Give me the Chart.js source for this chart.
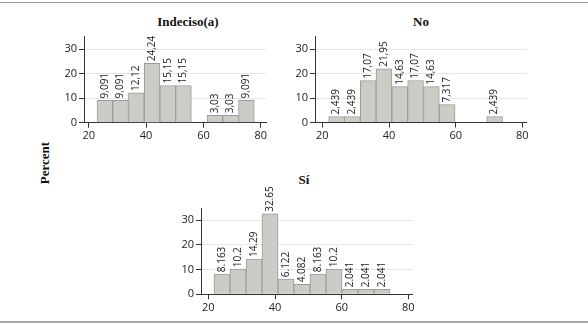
<!DOCTYPE html>
<html>
<head>
<meta charset="utf-8">
<script src="https://cdn.jsdelivr.net/npm/chart.js@4"></script>
<style>
body { margin: 0; background: #fff; width: 588px; height: 325px; overflow: hidden; position: relative; }
canvas { position: absolute; left: 0; top: 0; }
.ttl { position: absolute; font: bold 13px "Liberation Serif", serif; color: #111; transform: translateX(-50%); white-space: nowrap; line-height: 16px; }
.ylab { position: absolute; left: 45px; top: 163px; font: bold 13px "Liberation Serif", serif; color: #111; transform: translate(-50%, -50%) rotate(-90deg); white-space: nowrap; }
.rule { position: absolute; left: 0; width: 588px; background: #9d9d9d; }
</style>
</head>
<body>
<div class="rule" style="top:2px;height:1px"></div>
<div class="rule" style="top:321px;height:2px;background:#a8a8a8"></div>
<div class="ttl" style="left:188px;top:14px">Indeciso(a)</div>
<div class="ttl" style="left:421px;top:14px">No</div>
<div class="ttl" style="left:304px;top:172px">Sí</div>
<div class="ylab">Percent</div>
<canvas id="c1" width="588" height="325"></canvas>
<canvas id="c2" width="588" height="325"></canvas>
<canvas id="c3" width="588" height="325"></canvas>
<script>
// tick labels
var xTicks = [20, 40, 60, 80];
var yTicks = [0, 10, 20, 30];

// bin midpoints (age) and percent per bin
var indecisoMid = [25.64, 31.12, 36.6, 42.08, 47.56, 53.04, 58.52, 64.0, 69.48, 74.96];
var indecisoPct = [9.091, 9.091, 12.12, 24.24, 15.15, 15.15, 0, 3.03, 3.03, 9.091];

var noMid = [24.27, 29.01, 33.75, 38.49, 43.23, 47.97, 52.71, 57.45, 62.19, 66.93, 71.67];
var noPct = [2.439, 2.439, 17.07, 21.95, 14.63, 17.07, 14.63, 7.317, 0, 0, 2.439];

var siMid = [24.1, 28.9, 33.7, 38.5, 43.3, 48.1, 52.9, 57.7, 62.5, 67.3, 72.1];
var siPct = [8.163, 10.2, 14.29, 32.65, 6.122, 4.082, 8.163, 10.2, 2.041, 2.041, 2.041];

var barLabels = {
  id: 'barLabels',
  afterDatasetsDraw: function (chart, args, opts) {
    var ctx = chart.ctx;
    var meta = chart.getDatasetMeta(0);
    var vals = chart.data.datasets[0].data;
    ctx.save();
    ctx.font = '10px "Open Sans"';
    ctx.fillStyle = '#222';
    ctx.textAlign = 'left';
    ctx.textBaseline = 'middle';
    meta.data.forEach(function (bar, i) {
      var v = vals[i].y;
      if (!v) return;
      var txt = opts.comma ? String(v).replace('.', ',') : String(v);
      ctx.save();
      ctx.translate(bar.x, bar.y - 2);
      ctx.rotate(-Math.PI / 2);
      ctx.fillText(txt, 0, 0);
      ctx.restore();
    });
    ctx.restore();
  }
};

function makePanel(id, mids, pcts, xMin, xMax, pad, comma) {
  var pts = mids.map(function (m, i) { return { x: m, y: pcts[i] }; });
  var tickFont = { family: 'Open Sans', size: 11 };
  return new Chart(document.getElementById(id).getContext('2d'), {
    type: 'bar',
    data: {
      datasets: [{
        data: pts,
        backgroundColor: '#cbccc6',
        borderColor: '#9c9d98',
        borderWidth: 1,
        barPercentage: 1,
        categoryPercentage: 1
      }]
    },
    options: {
      responsive: false,
      animation: false,
      layout: { padding: pad },
      plugins: { legend: { display: false }, tooltip: { enabled: false }, barLabels: { comma: comma } },
      scales: {
        x: {
          type: 'linear', min: xMin, max: xMax, offset: false,
          afterBuildTicks: function (s) { s.ticks = xTicks.map(function (v) { return { value: v }; }); },
          afterFit: function (s) { s.height = 28; },
          grid: { drawOnChartArea: false, tickLength: 5, tickColor: '#333', offset: false },
          border: { color: '#333', width: 1 },
          ticks: { font: tickFont, color: '#222', padding: 2, maxRotation: 0 }
        },
        y: {
          min: 0, max: 35,
          afterBuildTicks: function (s) { s.ticks = yTicks.map(function (v) { return { value: v }; }); },
          afterFit: function (s) { s.width = 40; },
          grid: { color: '#e6e6e6', tickColor: '#333', tickLength: 5 },
          border: { color: '#333', width: 1 },
          ticks: { font: tickFont, color: '#222', padding: 2 }
        }
      }
    },
    plugins: [barLabels]
  });
}

makePanel('c1', indecisoMid, indecisoPct, 18.36, 81.8, { left: 44, right: 322, top: 36.8, bottom: 174.3 }, true);
makePanel('c2', noMid, noPct, 17.8, 81.3, { left: 275, right: 61.3, top: 36.8, bottom: 174.5 }, true);
makePanel('c3', siMid, siPct, 17.8, 81.3, { left: 161, right: 175.3, top: 208, bottom: 2.7 }, false);
</script>
</body>
</html>
